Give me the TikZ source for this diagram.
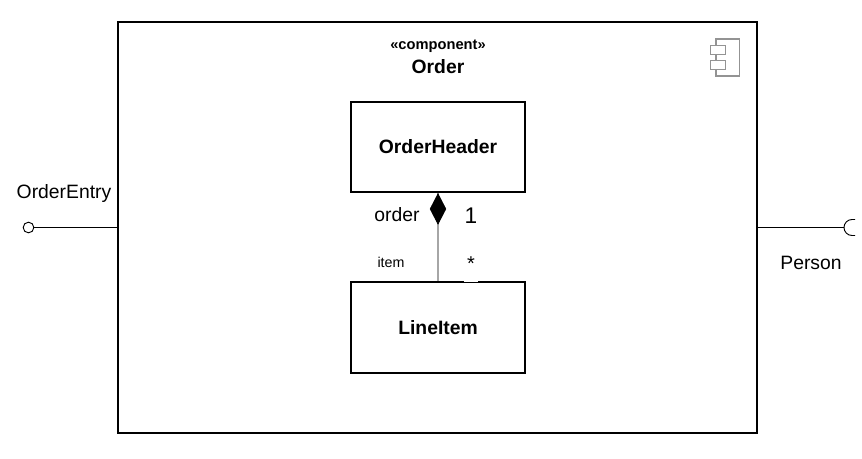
\documentclass[tikz,border=0pt]{standalone}
\usepackage{fontspec}
\setmainfont{Liberation Sans}
\usetikzlibrary{shapes.geometric,positioning}
\begin{document}
\begin{tikzpicture}[
  x=0.75pt, y=-0.75pt,
  classbox/.style={draw, line width=1.5pt, minimum width=130.5pt, minimum height=68pt,
                   align=center, font=\fontsize{14.5}{16}\selectfont\bfseries},
  label/.style={inner sep=0pt, font=\fontsize{14.5}{17}\selectfont},
  iconbox/.style={draw=gray!85, fill=white, line width=1pt, minimum width=11.5pt, minimum height=6.5pt, inner sep=0pt},
  iface/.style={line width=0.7pt}
]
\useasboundingbox (0,0) rectangle (862,458);

% Component frame
\draw[line width=1.5pt] (118,22) rectangle (757,433);
\node[inner sep=0pt, font=\fontsize{11}{13}\selectfont\bfseries] (stereo) at (438,46) {«component»};
\node[inner sep=0pt, font=\fontsize{14.5}{16}\selectfont\bfseries] (order) at (438,67) {Order};

% Component icon
\draw[gray!85, line width=0.8pt] (716,39) rectangle (739.5,76);
\node[iconbox] (icontop) at (718,50) {};
\node[iconbox] (iconbot) at (718,65) {};

% Classes
\node[classbox] (header) at (438,147) {OrderHeader};
\node[classbox] (lineitem) at (438,327.5) {LineItem};

% Composition
\draw[gray!70, line width=1.4pt] (header.south) -- (lineitem.north);
\node[diamond, draw, fill=black, inner sep=0pt, minimum width=12pt, minimum height=23pt, anchor=north] (comp) at (header.south) {};

% Association ends
\node[label] (role) at (397,215) {order};
\node[label, font=\fontsize{17}{19}\selectfont] (one) at (471,216) {1};
\node[label, font=\fontsize{10.7}{12}\selectfont] (item) at (391,262) {item};
\node[fill=white, inner sep=1pt, minimum width=10.5pt, text depth=8pt, font=\fontsize{15}{17}\selectfont, anchor=south] (many) at (471,282.5) {*};

% Provided interface
\node[circle, draw, iface, inner sep=0pt, minimum size=8pt] (lolli) at (28.5,227.5) {};
\coordinate (frameL) at (118,227.5);
\draw[iface] (lolli) -- (frameL);
\node[label] (entry) at (64,193) {OrderEntry};

% Required interface
\coordinate (frameR) at (757,227.5);
\coordinate (sock) at (844,227.5);
\draw[iface] (frameR) -- (sock);
\draw[iface] (855,219.5) -- (852,219.5) arc[start angle=270, end angle=90, radius=8] -- (855,235.5);
\node[label] (person) at (811,263) {Person};
\end{tikzpicture}
\end{document}
